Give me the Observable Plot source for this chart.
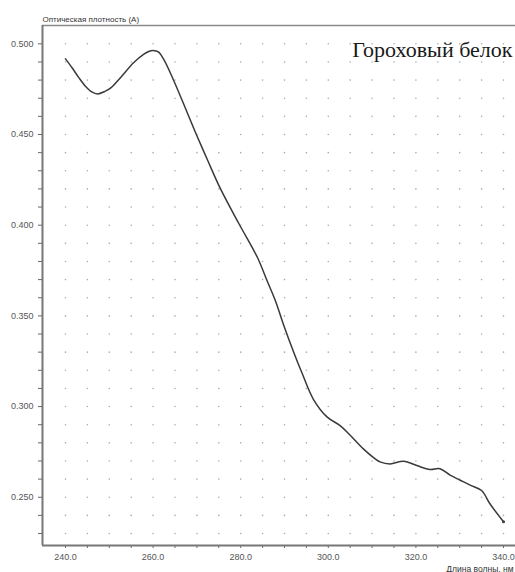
<!DOCTYPE html>
<html>
<head>
<meta charset="utf-8">
<script src="https://cdn.jsdelivr.net/npm/d3@7"></script>
<script src="https://cdn.jsdelivr.net/npm/@observablehq/plot@0.6"></script>
<style>
  html, body { margin: 0; padding: 0; background: white; overflow: hidden; }
</style>
</head>
<body>
<div id="chart"></div>
<script>
const title = "Гороховый белок";
const yLabel = "Оптическая плотность (A)";
const xLabel = "Длина волны, нм";

const wavelength = [240.0, 241.5, 243.0, 244.5, 246.0, 247.3, 249.0, 250.5, 252.5, 255.6, 257.9, 259.0, 260.0, 261.2, 262.4, 264.7, 267.8, 269.7, 272.5, 275.4, 279.6, 283.8, 286.0, 287.9, 289.8, 292.1, 294.0, 296.6, 299.7, 302.7, 305.0, 308.0, 310.7, 311.8, 314.1, 317.2, 320.2, 323.2, 325.5, 327.8, 330.1, 332.4, 335.0, 336.9, 340.0];
const absorbance = [0.4917, 0.4868, 0.4815, 0.4768, 0.4735, 0.4724, 0.4738, 0.4760, 0.4812, 0.4897, 0.4943, 0.4958, 0.4963, 0.4955, 0.4915, 0.4798, 0.4620, 0.4510, 0.4355, 0.4200, 0.4008, 0.3823, 0.3695, 0.3585, 0.3450, 0.3300, 0.3185, 0.3040, 0.2943, 0.2895, 0.2842, 0.2767, 0.2712, 0.2695, 0.2684, 0.2699, 0.2675, 0.2653, 0.2657, 0.2622, 0.2594, 0.2567, 0.2537, 0.2464, 0.2365];

const xDomain = [234.75, 342.74];
const yDomain = [0.2234, 0.5101];

const xTicks = [240, 245, 250, 255, 260, 265, 270, 275, 280, 285, 290, 295, 300, 305, 310, 315, 320, 325, 330, 335, 340];
const yTicks = [0.23, 0.24, 0.25, 0.26, 0.27, 0.28, 0.29, 0.30, 0.31, 0.32, 0.33, 0.34, 0.35, 0.36, 0.37, 0.38, 0.39, 0.40, 0.41, 0.42, 0.43, 0.44, 0.45, 0.46, 0.47, 0.48, 0.49, 0.50];

const data = wavelength.map((x, i) => ({x, y: absorbance[i]}));
const grid = d3.cross(xTicks, yTicks).map(([x, y]) => ({x, y}));
const last = [data[data.length - 1]];

const chart = Plot.plot({
  width: 515,
  height: 572,
  marginLeft: 42,
  marginRight: 0,
  marginTop: 25,
  marginBottom: 27,
  style: {fontFamily: "'Liberation Sans', Arial, sans-serif", fontSize: "9px", color: "#555", background: "white"},
  x: {domain: xDomain},
  y: {domain: yDomain},
  marks: [
    Plot.dot(grid, {x: "x", y: "y", r: 0.8, fill: "#aaaaaa", stroke: "none"}),
    Plot.ruleY([yDomain[1]], {stroke: "#8a8a8a", strokeWidth: 1.5}),
    Plot.axisX(xTicks, {tickSize: 3, tickPadding: 5, stroke: "#666", fill: "#555", label: null,
      tickFormat: d => d % 20 === 0 ? d.toFixed(1) : ""}),
    Plot.axisY(yTicks, {tickSize: 4, tickPadding: 5, stroke: "#666", fill: "#555", label: null,
      tickFormat: d => Math.round(d * 1000) % 50 === 0 ? d.toFixed(3) : ""}),
    Plot.ruleX([xDomain[0]], {stroke: "#777", strokeWidth: 2}),
    Plot.ruleY([yDomain[0]], {stroke: "#777", strokeWidth: 2}),
    Plot.line(data, {x: "x", y: "y", stroke: "#3a3a3a", strokeWidth: 1.5, curve: "catmull-rom"}),
    Plot.dot(last, {x: "x", y: "y", r: 1.6, fill: "#444", stroke: "none"}),
    Plot.text([title], {frameAnchor: "top-right", dx: -3, dy: 31, lineAnchor: "bottom", textAnchor: "end",
      fontFamily: "'Liberation Serif', 'Times New Roman', serif", fontSize: 22, fill: "#1a1a1a"}),
    Plot.text([yLabel], {frameAnchor: "top-left", dy: -4, lineAnchor: "bottom", textAnchor: "start", fontSize: 8, fill: "#333"}),
    Plot.text([xLabel], {frameAnchor: "bottom-right", dx: -2, dy: 26, lineAnchor: "bottom", textAnchor: "end", fontSize: 8.5, fill: "#333"})
  ]
});
document.getElementById("chart").append(chart);
</script>
</body>
</html>
